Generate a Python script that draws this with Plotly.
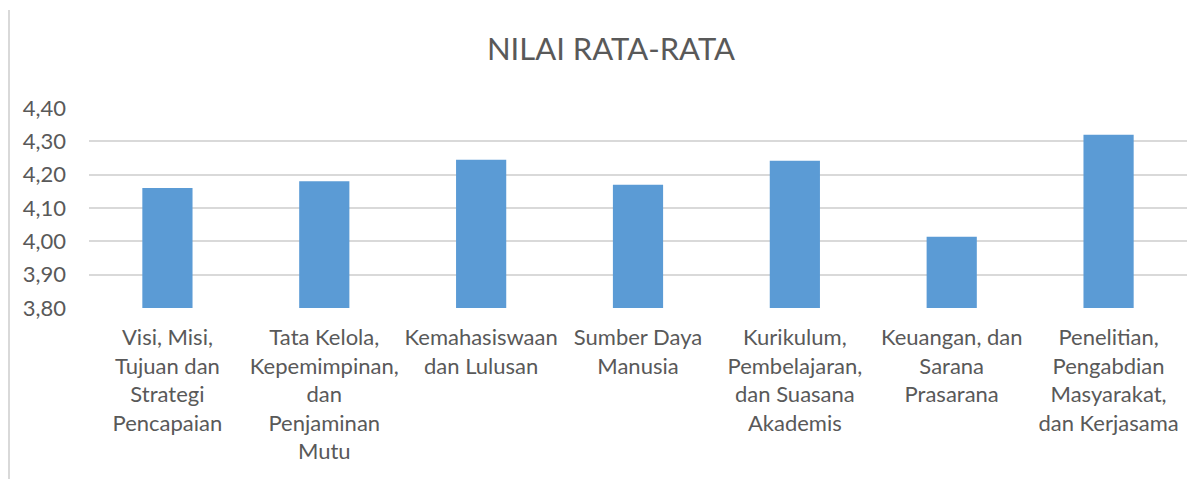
import plotly.graph_objects as go

categories = [
    "Visi, Misi,<br>Tujuan dan<br>Strategi<br>Pencapaian",
    "Tata Kelola,<br>Kepemimpinan,<br>dan<br>Penjaminan<br>Mutu",
    "Kemahasiswaan<br>dan Lulusan",
    "Sumber Daya<br>Manusia",
    "Kurikulum,<br>Pembelajaran,<br>dan Suasana<br>Akademis",
    "Keuangan, dan<br>Sarana<br>Prasarana",
    "Penelitian,<br>Pengabdian<br>Masyarakat,<br>dan Kerjasama",
]
values = [4.16, 4.18, 4.245, 4.17, 4.242, 4.014, 4.32]
tick_vals = [3.80, 3.90, 4.00, 4.10, 4.20, 4.30, 4.40]
tick_text = ["3,80", "3,90", "4,00", "4,10", "4,20", "4,30", "4,40"]
title_text = "NILAI RATA-RATA"

FONT = "Lato"
W, H = 1195, 471
L, R, T, B = 81, 16, 100, 171
PW, PH = W - L - R, H - T - B

fig = go.Figure(go.Bar(x=categories, y=values, marker=dict(color="#5B9BD5", line=dict(width=0))))

fig.update_layout(
    width=W, height=H,
    margin=dict(l=L, r=R, t=T, b=B, autoexpand=False),
    paper_bgcolor="white", plot_bgcolor="white",
    bargap=0.68,
    title=dict(text=title_text, x=603 / W, xanchor="center", y=1 - 41.5 / H, yanchor="middle",
               font=dict(family=FONT, size=31, color="#595959")),
    font=dict(family=FONT, size=22, color="#595959"),
    showlegend=False,
    xaxis=dict(showgrid=False, showline=False, ticks="", tickangle=0, ticklabelstandoff=14,
               tickfont=dict(family=FONT, size=22, color="#595959")),
    yaxis=dict(range=[3.80, 4.40], tickvals=tick_vals, ticktext=tick_text,
               showgrid=True, gridcolor="#D9D9D9", gridwidth=1.5, zeroline=False,
               showline=False, ticks="", ticklabelstandoff=22,
               tickfont=dict(family=FONT, size=22, color="#595959")),
    shapes=[dict(type="line", xref="paper", yref="paper",
                 x0=-(L - 1) / PW, x1=-(L - 1) / PW,
                 y0=1 - (H - T) / PH, y1=1 + (T - 2) / PH,
                 line=dict(color="#D9D9D9", width=2))],
)
fig.write_html("out.html")
